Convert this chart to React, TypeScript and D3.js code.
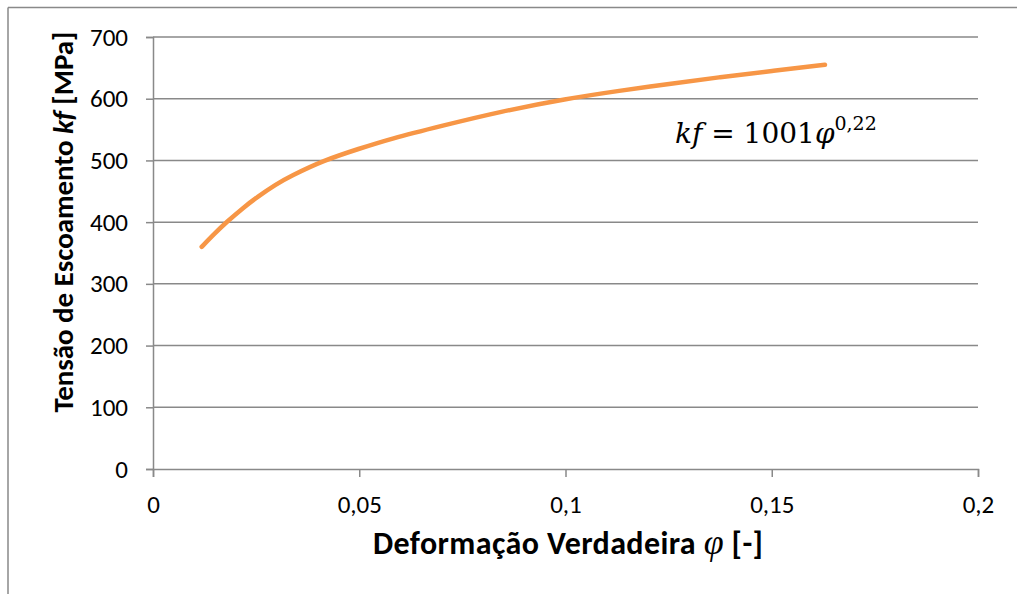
import React, { useEffect, useRef } from 'react';
import * as d3 from 'd3';

// true strain (phi) vs flow stress kf
const phiValues = [0.0118, 0.015, 0.0178, 0.022, 0.0251, 0.03, 0.0332, 0.0413, 0.05, 0.0575, 0.07, 0.0841, 0.1003, 0.1132, 0.125, 0.1375, 0.15, 0.1629];
const kfValues = [360, 382, 400, 424, 440, 462, 474, 500, 519, 535, 556, 579, 600, 613, 624, 635, 645, 655];

const xTicks = [0, 0.05, 0.1, 0.15, 0.2];
const yTicks = [0, 100, 200, 300, 400, 500, 600, 700];

const gridColor = '#898989';
const font = "Carlito, 'Liberation Sans Narrow', 'Open Sans', sans-serif";

const App = () => {
  const svgRef = useRef<SVGSVGElement>(null);

  useEffect(() => {
    const svg = d3.select(svgRef.current);
    svg.selectAll('*').remove();

    const width = 1017;
    const height = 594;
    const margin = { top: 37, right: 39, bottom: 125, left: 153 };

    svg.attr('width', width).attr('height', height);

    // outer frame (top and left edges visible)
    svg.append('line').attr('x1', 8).attr('x2', width).attr('y1', 7.5).attr('y2', 7.5)
      .attr('stroke', gridColor).attr('stroke-width', 1.5);
    svg.append('line').attr('x1', 8).attr('x2', 8).attr('y1', 7.5).attr('y2', height)
      .attr('stroke', gridColor).attr('stroke-width', 1.5);

    const x = d3.scaleLinear().domain([0, 0.2]).range([margin.left, width - margin.right]);
    const y = d3.scaleLinear().domain([0, 700]).range([height - margin.bottom, margin.top]);

    // gridlines
    svg.append('g').selectAll('line').data(yTicks.slice(1)).enter().append('line')
      .attr('x1', x(0)).attr('x2', x(0.2))
      .attr('y1', d => y(d)).attr('y2', d => y(d))
      .attr('stroke', gridColor).attr('stroke-width', 1.5);

    // y axis
    const yAxis = svg.append('g')
      .attr('transform', `translate(${x(0)},0)`)
      .call(d3.axisLeft(y).tickValues(yTicks).tickSize(7).tickPadding(18).tickFormat(d3.format('d')));
    yAxis.select('.domain').attr('stroke', gridColor).attr('stroke-width', 1.5);
    yAxis.selectAll('.tick line').attr('stroke', gridColor).attr('stroke-width', 1.5);
    yAxis.selectAll('text').attr('font-family', font).attr('font-size', 25).attr('fill', '#000');

    // x axis
    const xAxis = svg.append('g')
      .attr('transform', `translate(0,${y(0)})`)
      .call(d3.axisBottom(x).tickValues(xTicks).tickSize(8).tickPadding(18)
        .tickFormat(d => String(d).replace('.', ',')));
    xAxis.select('.domain').attr('stroke', gridColor).attr('stroke-width', 1.5);
    xAxis.selectAll('.tick line').attr('stroke', gridColor).attr('stroke-width', 1.5);
    xAxis.selectAll('text').attr('font-family', font).attr('font-size', 25).attr('fill', '#000');

    // curve
    const pts = phiValues.map((p, i) => [p, kfValues[i]] as [number, number]);
    const line = d3.line<[number, number]>()
      .x(d => x(d[0]))
      .y(d => y(d[1]))
      .curve(d3.curveBasis);
    svg.append('path').datum(pts)
      .attr('d', line)
      .attr('fill', 'none')
      .attr('stroke', '#F79646')
      .attr('stroke-width', 4.5)
      .attr('stroke-linecap', 'round');

    // equation label
    const eq = svg.append('text')
      .attr('x', 675).attr('y', 143)
      .attr('font-family', "'DejaVu Serif', 'Liberation Serif', serif")
      .attr('font-size', 28).attr('fill', '#000');
    eq.append('tspan').attr('font-style', 'italic').text('kf');
    eq.append('tspan').text(' = 1001');
    eq.append('tspan').attr('font-style', 'italic').text('φ');
    eq.append('tspan').attr('font-size', 19).attr('dy', -13).text('0,22');

    // axis titles
    const xt = svg.append('text')
      .attr('x', 568).attr('y', 554)
      .attr('text-anchor', 'middle')
      .attr('textLength', 390)
      .attr('font-family', font).attr('font-weight', 'bold').attr('font-size', 32);
    xt.append('tspan').text('Deformação Verdadeira ');
    xt.append('tspan').attr('font-family', "'Liberation Serif', serif").attr('font-style', 'italic').attr('font-weight', 'normal').attr('font-size', 36).text('φ');
    xt.append('tspan').text('  [-]');

    const yt = svg.append('text')
      .attr('transform', 'translate(73,222) rotate(-90)')
      .attr('text-anchor', 'middle')
      .attr('textLength', 381)
      .attr('font-family', font).attr('font-weight', 'bold').attr('font-size', 29);
    yt.append('tspan').text('Tensão de Escoamento ');
    yt.append('tspan').attr('font-style', 'italic').text('kf');
    yt.append('tspan').text(' [MPa]');
  }, []);

  return <svg ref={svgRef} style={{ position: 'absolute', left: 0, top: 0 }}></svg>;
};

export default App;
